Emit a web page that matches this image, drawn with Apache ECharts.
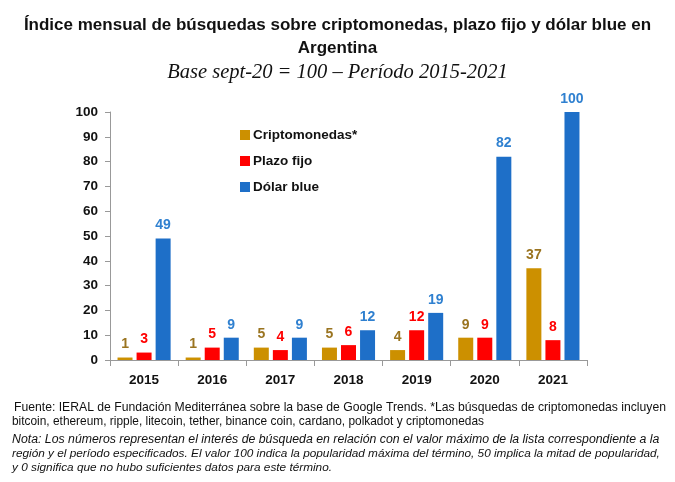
<!DOCTYPE html>
<html><head><meta charset="utf-8">
<script src="https://cdn.jsdelivr.net/npm/echarts@6/dist/echarts.min.js"></script>
<style>html,body{margin:0;padding:0;background:#fff}#c{width:675px;height:482px}</style>
</head><body><div id="c"></div>
<script>
const years = ['2015','2016','2017','2018','2019','2020','2021'];
const cripto = [1, 1, 5, 5, 4, 9, 37];
const plazoFijo = [3, 5, 4, 6, 12, 9, 8];
const dolarBlue = [49, 9, 9, 12, 19, 82, 100];
const yTicks = [0,10,20,30,40,50,60,70,80,90,100];

const chart = echarts.init(document.getElementById('c'));
const lbl = (color) => ({show:true, position:'top', distance:6, color:color, fontWeight:'bold', fontSize:14, fontFamily:'Liberation Sans'});
chart.setOption({
  animation:false,
  grid:{left:110, right:88, top:112, bottom:122},
  legend:{
    left:235, top:123, orient:'vertical', itemGap:12, itemWidth:10, itemHeight:10, icon:'rect',
    textStyle:{fontWeight:'bold', fontSize:13.5, color:'#111', fontFamily:'Liberation Sans', padding:[0,0,0,-2]},
    data:['Criptomonedas*','Plazo fijo','Dólar blue']
  },
  xAxis:{type:'category', data:years,
    axisLine:{lineStyle:{color:'#999'}}, axisTick:{show:true, length:6, lineStyle:{color:'#999'}},
    axisLabel:{color:'#111', fontWeight:'bold', fontSize:13.5, margin:13, fontFamily:'Liberation Sans'}},
  yAxis:{type:'value', min:0, max:100, interval:10,
    splitLine:{show:false},
    axisLine:{show:true, lineStyle:{color:'#999'}}, axisTick:{show:true, length:5, lineStyle:{color:'#999'}},
    axisLabel:{color:'#111', fontWeight:'bold', fontSize:13.5, margin:12, fontFamily:'Liberation Sans',
      formatter:(v)=> yTicks.includes(v) ? String(v) : ''}},
  series:[
    {name:'Criptomonedas*', type:'bar', data:cripto, barWidth:15, barGap:'27%', itemStyle:{color:'#cc9000'}, label:lbl('#9a7420')},
    {name:'Plazo fijo', type:'bar', data:plazoFijo, barWidth:15, barGap:'27%', itemStyle:{color:'#ff0000'}, label:lbl('#ff0000')},
    {name:'Dólar blue', type:'bar', data:dolarBlue, barWidth:15, barGap:'27%', itemStyle:{color:'#1e6fc8'}, label:lbl('#2f80d0')}
  ],
  graphic:[
    {type:'text', left:'center', top:17, style:{text:'Índice mensual de búsquedas sobre criptomonedas, plazo fijo y dólar blue en', font:'bold 17px "Liberation Sans"', fill:'#111'}},
    {type:'text', left:'center', top:40, style:{text:'Argentina', font:'bold 17px "Liberation Sans"', fill:'#111'}},
    {type:'text', left:'center', top:63, style:{text:'Base sept-20 = 100 – Período 2015-2021', font:'italic 20.5px "Liberation Serif"', fill:'#111'}},
    {type:'text', left:14, top:402, style:{text:'Fuente: IERAL de Fundación Mediterránea sobre la base de Google Trends. *Las búsquedas de criptomonedas incluyen', font:'12.2px "Liberation Sans"', fill:'#111'}},
    {type:'text', left:12, top:416, style:{text:'bitcoin, ethereum, ripple, litecoin, tether, binance coin, cardano, polkadot y criptomonedas', font:'11.9px "Liberation Sans"', fill:'#111'}},
    {type:'text', left:12, top:434, style:{text:'Nota: Los números representan el interés de búsqueda en relación con el valor máximo de la lista correspondiente a la', font:'italic 12.3px "Liberation Sans"', fill:'#111'}},
    {type:'text', left:12, top:448, style:{text:'región y el período especificados. El valor 100 indica la popularidad máxima del término, 50 implica la mitad de popularidad,', font:'italic 11.8px "Liberation Sans"', fill:'#111'}},
    {type:'text', left:12, top:462, style:{text:'y 0 significa que no hubo suficientes datos para este término.', font:'italic 11.8px "Liberation Sans"', fill:'#111'}}
  ]
});
</script></body></html>
